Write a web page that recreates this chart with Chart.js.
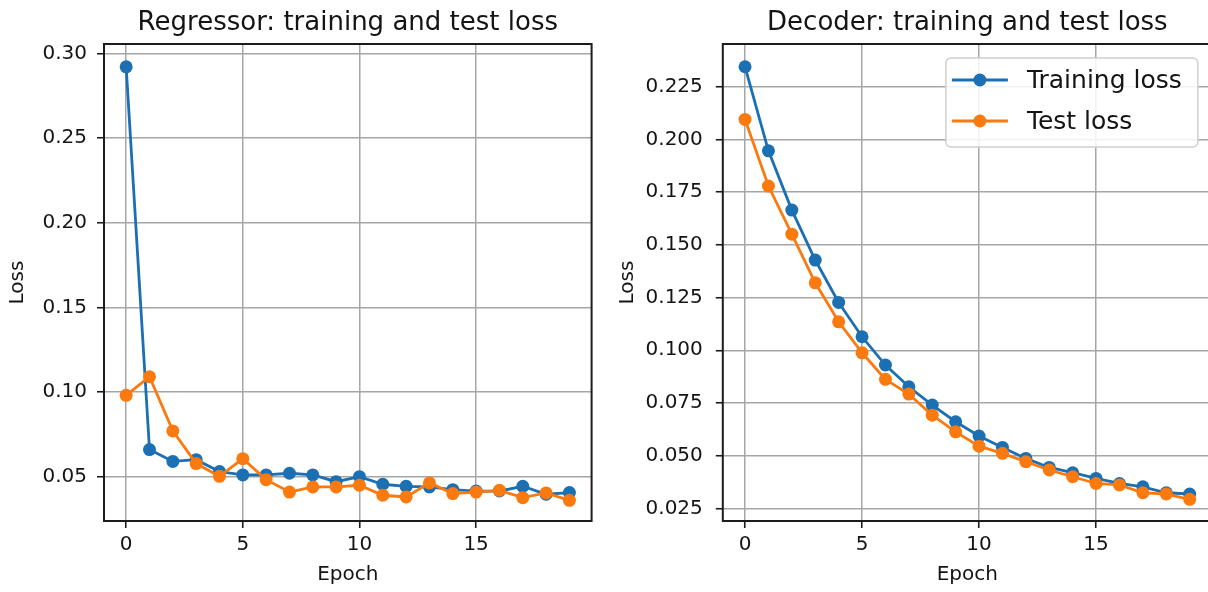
<!DOCTYPE html>
<html>
<head>
<meta charset="utf-8">
<title>Regressor / Decoder loss</title>
<script src="https://cdn.jsdelivr.net/npm/chart.js@4.4.0/dist/chart.umd.min.js"></script>
<style>
  html, body { margin: 0; padding: 0; background: #fff; overflow: hidden; }
  #wrap { position: relative; width: 1208px; height: 592px; overflow: hidden; }
  #left { position: absolute; left: 0; top: 0; }
  #right { position: absolute; left: 604px; top: 0; }
</style>
</head>
<body>
<div id="wrap">
  <canvas id="left" width="604" height="592"></canvas>
  <canvas id="right" width="620" height="592"></canvas>
</div>
<script>
'use strict';

// ===== DATA =====
const epochs = [0, 1, 2, 3, 4, 5, 6, 7, 8, 9, 10, 11, 12, 13, 14, 15, 16, 17, 18, 19];

const regressorTrain = [0.292, 0.066, 0.059, 0.060, 0.053, 0.051, 0.051, 0.052, 0.051, 0.047,
                        0.050, 0.0455, 0.0443, 0.0439, 0.0423, 0.0415, 0.0415, 0.0443, 0.0396, 0.0406];
const regressorTest  = [0.098, 0.109, 0.077, 0.0577, 0.0502, 0.0606, 0.0482, 0.0409, 0.0439, 0.0439,
                        0.0449, 0.039, 0.038, 0.0463, 0.040, 0.0409, 0.0419, 0.0376, 0.0404, 0.036];

const decoderTrain = [0.2345, 0.1946, 0.1665, 0.1428, 0.1227, 0.1064, 0.093, 0.0827, 0.074, 0.0661,
                      0.0593, 0.0539, 0.0487, 0.0444, 0.0419, 0.0392, 0.0368, 0.0352, 0.0324, 0.0318];
const decoderTest  = [0.2095, 0.1779, 0.1551, 0.132, 0.1135, 0.0988, 0.0862, 0.0792, 0.0692, 0.0613,
                      0.0545, 0.0511, 0.0471, 0.0432, 0.040, 0.0368, 0.0361, 0.0324, 0.0318, 0.0293];

const xTicks = [0, 5, 10, 15];
const regressorYTicks = [0.05, 0.10, 0.15, 0.20, 0.25, 0.30];
const decoderYTicks = [0.025, 0.050, 0.075, 0.100, 0.125, 0.150, 0.175, 0.200, 0.225];

const seriesNames = ['Training loss', 'Test loss'];
const BLUE = '#1b6fb3';
const ORANGE = '#fb7a10';
const INK = '#141414';

Chart.defaults.font.family = "'DejaVu Sans', sans-serif";
Chart.defaults.color = INK;

// ===== PLUGINS: cadre + titre, légende encadrée =====
const framePlugin = {
  id: 'frame',
  afterDraw(chart, args, opts) {
    const { ctx, chartArea: a } = chart;
    ctx.save();
    ctx.strokeStyle = '#1c1c1c';
    ctx.lineWidth = 2;
    ctx.strokeRect(a.left, a.top, a.right - a.left, a.bottom - a.top);
    ctx.font = '26px "DejaVu Sans"';
    ctx.fillStyle = INK;
    ctx.textAlign = 'center';
    ctx.textBaseline = 'alphabetic';
    ctx.fillText(opts.text, (a.left + a.right) / 2, 29.5);
    ctx.restore();
  }
};

const boxLegend = {
  id: 'boxLegend',
  afterDraw(chart, args, opts) {
    if (!opts.show) return;
    const { ctx, chartArea: a } = chart;
    const w = 252, h = 89;
    const x0 = a.right - 14 - w, y0 = a.top + 14;
    ctx.save();
    ctx.beginPath();
    ctx.roundRect(x0, y0, w, h, 5);
    ctx.fillStyle = 'rgba(255,255,255,0.85)';
    ctx.fill();
    ctx.strokeStyle = '#d0d0d0';
    ctx.lineWidth = 1.5;
    ctx.stroke();
    chart.data.datasets.forEach(function(ds, i) {
      const cy = y0 + 22 + i * 41;
      ctx.strokeStyle = ds.borderColor;
      ctx.lineWidth = ds.borderWidth;
      ctx.beginPath();
      ctx.moveTo(x0 + 6, cy);
      ctx.lineTo(x0 + 62, cy);
      ctx.stroke();
      ctx.fillStyle = ds.borderColor;
      ctx.beginPath();
      ctx.arc(x0 + 34, cy, ds.pointRadius, 0, Math.PI * 2);
      ctx.fill();
      ctx.fillStyle = INK;
      ctx.font = '25px "DejaVu Sans"';
      ctx.textAlign = 'left';
      ctx.textBaseline = 'middle';
      ctx.fillText(ds.label, x0 + 81, cy + 1);
    });
    ctx.restore();
  }
};

function series(label, values, color, order) {
  return {
    label: label,
    data: epochs.map(function(e, i) { return { x: e, y: values[i] }; }),
    borderColor: color,
    backgroundColor: color,
    borderWidth: 2.8,
    pointRadius: 6.5,
    pointBorderWidth: 0,
    pointBackgroundColor: color,
    tension: 0,
    order: order
  };
}

function makeChart(canvasId, cfg) {
  const gridOpts = {
    color: '#a6a6a6',
    lineWidth: 1.5,
    drawTicks: true,
    tickLength: 7,
    tickColor: '#1c1c1c',
    tickWidth: 1.6
  };
  return new Chart(document.getElementById(canvasId), {
    type: 'line',
    data: {
      datasets: [
        series(seriesNames[0], cfg.train, BLUE, 2),
        series(seriesNames[1], cfg.test, ORANGE, 1)
      ]
    },
    options: {
      responsive: false,
      animation: false,
      layout: { padding: { left: 0, right: cfg.padRight, top: 44, bottom: 0 } },
      plugins: {
        legend: { display: false },
        tooltip: { enabled: false },
        frame: { text: cfg.title },
        boxLegend: { show: cfg.legend }
      },
      scales: {
        x: {
          type: 'linear',
          min: -0.95,
          max: 19.95,
          afterBuildTicks: function(scale) {
            scale.ticks = xTicks.map(function(v) { return { value: v }; });
          },
          afterFit: function(scale) { scale.height = 71; },
          ticks: {
            includeBounds: false,
            font: { size: 20 },
            color: INK,
            padding: 5,
            maxRotation: 0,
            callback: function(v) { return String(v); }
          },
          grid: gridOpts,
          border: { display: false },
          title: {
            display: true,
            text: 'Epoch',
            font: { size: 20 },
            color: INK,
            padding: { top: 0, bottom: 5 }
          }
        },
        y: {
          type: 'linear',
          min: cfg.yMin,
          max: cfg.yMax,
          afterBuildTicks: function(scale) {
            scale.ticks = cfg.yTicks.map(function(v) { return { value: v }; });
          },
          afterFit: function(scale) { scale.width = cfg.yWidth; },
          ticks: {
            includeBounds: false,
            font: { size: 20 },
            color: INK,
            padding: cfg.yPad,
            callback: function(v) { return v.toFixed(cfg.decimals); }
          },
          grid: gridOpts,
          border: { display: false },
          title: {
            display: true,
            text: 'Loss',
            font: { size: 20 },
            color: INK,
            padding: { top: cfg.yTitlePad, bottom: 0 }
          }
        }
      }
    },
    plugins: [framePlugin, boxLegend]
  });
}

document.addEventListener('DOMContentLoaded', function() {
  makeChart('left', {
    title: 'Regressor: training and test loss',
    train: regressorTrain,
    test: regressorTest,
    yTicks: regressorYTicks,
    yMin: 0.0238,
    yMax: 0.3055,
    decimals: 2,
    yWidth: 104,
    yPad: 10,
    yTitlePad: 6,
    padRight: 12.4,
    legend: false
  });

  makeChart('right', {
    title: 'Decoder: training and test loss',
    train: decoderTrain,
    test: decoderTest,
    yTicks: decoderYTicks,
    yMin: 0.019,
    yMax: 0.2453,
    decimals: 3,
    yWidth: 118.8,
    yPad: 13,
    yTitlePad: 12,
    padRight: 12.1,
    legend: true
  });
});
</script>
</body>
</html>
